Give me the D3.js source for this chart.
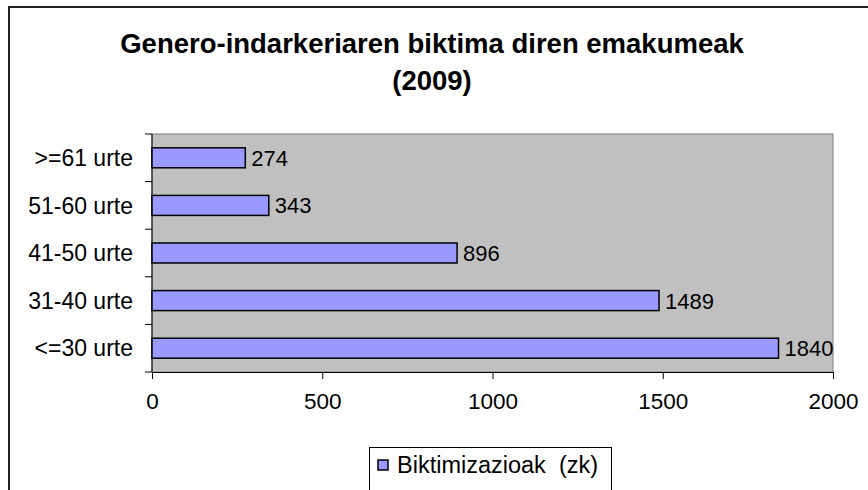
<!DOCTYPE html>
<html>
<head>
<meta charset="utf-8">
<script src="https://cdn.jsdelivr.net/npm/d3@7"></script>
<style>
  body { margin: 0; background: #fff; }
  svg { display: block; font-family: "Liberation Sans", Arial, sans-serif; }
</style>
</head>
<body>
<svg id="chart" width="868" height="490"></svg>
<script>
// chart data
const titleLines = ['Genero-indarkeriaren biktima diren emakumeak', '(2009)'];
const ageGroups = ['>=61 urte', '51-60 urte', '41-50 urte', '31-40 urte', '<=30 urte'];
const victims = [274, 343, 896, 1489, 1840];
const xTicks = [0, 500, 1000, 1500, 2000];
const legendLabel = 'Biktimizazioak  (zk)';

const svg = d3.select('#chart');

// outer chart border (runs off the picture on right and bottom)
svg.append('rect')
  .attr('x', 9)
  .attr('y', 7)
  .attr('width', 900)
  .attr('height', 520)
  .attr('fill', '#fff')
  .attr('stroke', '#222')
  .attr('stroke-width', 2);

// title
svg.append('text')
  .attr('x', 432)
  .attr('y', 53)
  .attr('text-anchor', 'middle')
  .style('font-size', '27.5px')
  .style('font-weight', 'bold')
  .selectAll('tspan')
  .data(titleLines)
  .enter()
  .append('tspan')
  .attr('x', 432)
  .attr('dy', (d, i) => i === 0 ? 0 : 37)
  .text(d => d);

// scales
const plot = { left: 152, right: 833, top: 134, bottom: 372 };
const xScale = d3.scaleLinear().domain([0, 2000]).range([plot.left, plot.right]);
const yScale = d3.scaleBand()
  .domain(ageGroups)
  .range([plot.top, plot.bottom])
  .paddingInner(0.58)
  .paddingOuter(0.29);

// plot area
svg.append('rect')
  .attr('x', plot.left)
  .attr('y', plot.top)
  .attr('width', plot.right - plot.left)
  .attr('height', plot.bottom - plot.top)
  .attr('fill', '#c0c0c0')
  .attr('stroke', '#808080')
  .attr('stroke-width', 1);

// x axis
const xAxis = d3.axisBottom()
  .scale(xScale)
  .tickValues(xTicks)
  .tickFormat(d3.format('d'))
  .tickSize(7)
  .tickSizeOuter(0)
  .tickPadding(14);
const xAxisG = svg.append('g')
  .attr('transform', `translate(0, ${plot.bottom})`)
  .call(xAxis);
xAxisG.selectAll('text')
  .style('font-size', '22.5px')
  .style('font-family', '"Liberation Sans", Arial, sans-serif')
  .attr('fill', '#000');
xAxisG.selectAll('line, path').attr('stroke', '#000');

// y axis line and category separators
svg.append('line')
  .attr('x1', plot.left)
  .attr('x2', plot.left)
  .attr('y1', plot.top)
  .attr('y2', plot.bottom)
  .attr('stroke', '#000');

const bounds = ageGroups.map(d => yScale(d) - yScale.step() * yScale.paddingInner() / 2);
bounds.push(plot.bottom);
svg.append('g')
  .selectAll('line')
  .data(bounds)
  .enter()
  .append('line')
  .attr('x1', plot.left - 7)
  .attr('x2', plot.left)
  .attr('y1', d => d)
  .attr('y2', d => d)
  .attr('stroke', '#000');

svg.append('g')
  .selectAll('text')
  .data(ageGroups)
  .enter()
  .append('text')
  .attr('x', plot.left - 19)
  .attr('y', d => yScale(d) + yScale.bandwidth() / 2)
  .attr('dy', '0.36em')
  .attr('text-anchor', 'end')
  .style('font-size', '23px')
  .text(d => d);

// bars
const bars = svg.append('g')
  .selectAll('g')
  .data(victims)
  .enter()
  .append('g');

bars.append('rect')
  .attr('x', xScale(0))
  .attr('y', (d, i) => yScale(ageGroups[i]))
  .attr('width', d => xScale(d) - xScale(0))
  .attr('height', yScale.bandwidth())
  .attr('fill', '#9999ff')
  .attr('stroke', '#000')
  .attr('stroke-width', 1.5);

bars.append('text')
  .attr('x', d => xScale(d) + 6)
  .attr('y', (d, i) => yScale(ageGroups[i]) + yScale.bandwidth() / 2)
  .attr('dy', '0.36em')
  .style('font-size', '22px')
  .text(d => d);

// legend
const legend = svg.append('g');
legend.append('rect')
  .attr('x', 369.5)
  .attr('y', 447.5)
  .attr('width', 242)
  .attr('height', 60)
  .attr('fill', '#fff')
  .attr('stroke', '#000')
  .attr('stroke-width', 1);
legend.append('rect')
  .attr('x', 378)
  .attr('y', 460)
  .attr('width', 10)
  .attr('height', 10)
  .attr('fill', '#9999ff')
  .attr('stroke', '#000')
  .attr('stroke-width', 1.5);
legend.append('text')
  .attr('x', 397)
  .attr('y', 473)
  .style('font-size', '23.5px')
  .style('white-space', 'pre')
  .text(legendLabel);
</script>
</body>
</html>
